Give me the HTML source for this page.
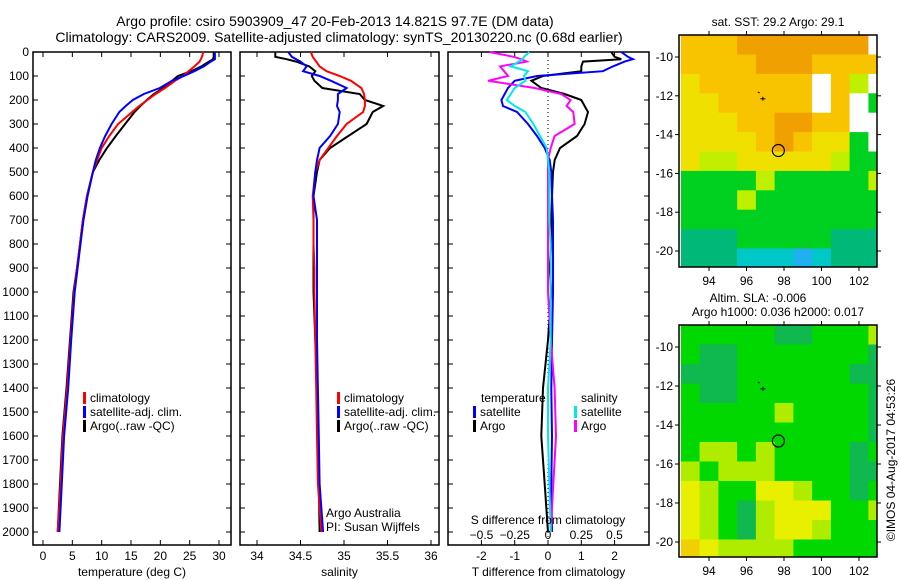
<!DOCTYPE html>
<html><head><meta charset="utf-8"><style>
body{margin:0;background:#fff;}
svg{display:block;font-family:"Liberation Sans",sans-serif;}
</style></head><body>
<svg id="c" width="900" height="580" viewBox="0 0 900 580" xmlns="http://www.w3.org/2000/svg">
<text x="335" y="26" font-size="14" text-anchor="middle">Argo profile: csiro 5903909_47 20-Feb-2013 14.821S 97.7E (DM data)</text>
<text x="339" y="42" font-size="14" text-anchor="middle">Climatology: CARS2009. Satellite-adjusted climatology: synTS_20130220.nc (0.68d earlier)</text>
<text x="778" y="26" font-size="12" text-anchor="middle">sat. SST: 29.2 Argo: 29.1</text>
<text x="758" y="302" font-size="12" text-anchor="middle">Altim. SLA: -0.006</text>
<text x="778" y="316" font-size="12" text-anchor="middle">Argo h1000: 0.036 h2000: 0.017</text>
<text transform="translate(895,460) rotate(-90)" font-size="12" text-anchor="middle">©IMOS 04-Aug-2017 04:53:26</text>
<g id="g"></g>
</svg>
<script>
// ---- profile data ----
const depths=[0,20,30,40,60,80,100,120,150,175,200,225,250,300,350,400,450,500,600,700,800,900,1000,1200,1400,1600,1800,2000];
const tempClim=[27.3,27.1,26.9,26.7,25.8,24.8,23.9,22.5,20.8,19.2,17.8,16.4,15.2,12.8,11.3,10.0,9.2,8.5,7.5,6.8,6.3,5.8,5.3,4.7,4.1,3.4,3.0,2.5];
const tempSat=[29.3,29.3,29.3,28.6,27.4,25.8,24.0,22.0,19.9,17.2,15.3,14.1,13.0,11.7,10.6,9.7,9.0,8.5,7.6,6.9,6.4,5.9,5.4,4.8,4.3,3.6,3.2,2.8];
const tempArgo=[29.1,29.1,29.0,28.3,27.0,25.3,23.0,22.0,20.5,18.9,17.7,16.6,15.6,14.0,12.4,10.9,9.6,8.5,7.5,6.8,6.3,5.8,5.2,4.6,4.0,3.3,2.9,2.5];
const salClim=[34.62,34.64,34.66,34.68,34.72,34.8,34.95,35.08,35.2,35.23,35.24,35.24,35.22,35.03,34.92,34.82,34.72,34.67,34.64,34.65,34.65,34.66,34.66,34.67,34.68,34.69,34.7,34.74];
const salSat=[34.36,34.4,34.45,34.5,34.57,34.53,34.72,34.85,35.03,34.93,34.93,34.92,34.95,34.93,34.84,34.72,34.69,34.67,34.65,34.69,34.69,34.69,34.69,34.69,34.7,34.71,34.72,34.76];
const salArgo=[34.21,34.21,34.34,34.45,34.6,34.67,34.63,34.66,34.75,35.18,35.24,35.45,35.33,35.26,35.05,34.84,34.72,34.69,34.65,34.65,34.65,34.65,34.65,34.67,34.69,34.7,34.71,34.72];
const dTSat=[2.2,2.4,2.55,2.3,1.95,1.65,-0.33,-1.0,-1.2,-1.3,-1.4,-1.35,-0.93,-0.6,-0.33,-0.1,0.05,0.1,0.12,0.15,0.15,0.15,0.15,0.12,0.1,0.12,0.1,0.12];
const dTArgo=[1.9,2.0,2.2,1.05,1.0,1.0,-0.15,-0.5,-0.2,0.5,1.0,1.1,1.2,1.1,0.87,0.36,0.2,0.15,0.12,0.1,0.1,0.05,0.1,0.0,-0.15,-0.2,-0.1,0.0];
const dSArgo=[-0.44,-0.26,-0.2,-0.16,-0.36,-0.33,-0.3,-0.45,-0.1,0.1,0.17,0.14,0.19,0.2,0.05,0.02,0.0,0.0,0.0,0.0,0.0,0.0,0.0,0.02,0.05,0.06,0.04,0.02];
const dSSat=[-0.14,-0.18,-0.19,-0.22,-0.28,-0.15,-0.18,-0.17,-0.25,-0.28,-0.31,-0.25,-0.17,-0.11,-0.06,-0.01,0.0,0.01,0.01,0.01,0.02,0.02,0.02,0.02,0.0,0.0,0.01,0.02];
const depthTicks=[0,100,200,300,400,500,600,700,800,900,1000,1100,1200,1300,1400,1500,1600,1700,1800,1900,2000];
const tempTicks=[0,5,10,15,20,25,30];
const salTicks=[34,34.5,35,35.5,36];
const dTTicks=[-2,-1,0,1,2];
const dSTicks=[-0.5,-0.25,0,0.25,0.5];
// ---- map data (1-degree cells, rows lat -9..-21, cols lon 92.5..102.5) ----
const mapLons=[92,93,94,95,96,97,98,99,100,101,102];
const mapLats=[-9,-10,-11,-12,-13,-14,-15,-16,-17,-18,-19,-20];
const sstCells=[
[2,2,2,1,1,1,1,1,1,1,0],
[2,2,2,2,1,1,1,2,2,2,2],
[3,2,2,2,2,2,2,0,2,4,0],
[3,3,2,2,2,2,2,0,2,0,5],
[3,3,3,2,2,1,1,2,2,0,0],
[3,3,3,3,2,1,2,3,3,5,0],
[3,4,4,3,3,3,3,3,4,5,5],
[5,5,5,5,4,5,5,5,5,5,4],
[5,5,5,4,5,5,5,5,5,5,5],
[5,5,5,5,5,5,5,5,5,5,5],
[6,6,6,5,5,5,5,5,6,6,6],
[6,6,6,7,7,7,8,7,6,6,6]];
const slaCells=[
[5,5,5,5,5,6,6,5,5,5,4],
[5,6,6,5,5,5,5,5,5,5,6],
[6,6,6,5,5,5,5,5,5,6,6],
[5,6,6,5,5,5,5,5,5,5,6],
[5,5,5,5,5,4,5,5,5,5,6],
[5,5,5,5,5,5,5,5,5,5,6],
[5,4,4,5,4,5,5,5,5,6,5],
[4,5,4,4,4,5,5,5,5,6,6],
[3,4,5,5,3,3,4,5,5,6,5],
[3,4,5,6,4,3,3,3,5,5,4],
[3,4,5,6,4,3,3,4,5,5,5],
[2,3,4,4,4,4,5,5,5,5,5]];
const palette=['#ffffff','#f0a000','#f8c400','#f0e000','#c0f000','#00d020','#00b878','#00c8c8','#20b0f0'];
const slaPalette=['#ffffff','#f0a000','#f0d000','#e8f000','#b0ec00','#00d800','#10b850','#00c8c8','#20b0f0'];

const NS='http://www.w3.org/2000/svg';
const G=document.getElementById('g');
function mk(tag,at,parent){const e=document.createElementNS(NS,tag);for(const k in at)e.setAttribute(k,at[k]);(parent||G).appendChild(e);return e;}
function txt(x,y,s,anchor,size){const t=mk('text',{x:x,y:y,'font-size':size||12,'text-anchor':anchor||'middle'});t.textContent=s;return t;}
const yD=d=>52+d*0.24;
const TOP=52,BOT=545;

function panel(name,L,R,xs,ticks,fmt,label){
  const r=mk('rect',{x:L,y:TOP,width:R-L,height:BOT-TOP,fill:'none',stroke:'#000','stroke-width':1.5});
  
  
  depthTicks.forEach(d=>{const y=yD(d);mk('line',{x1:L,x2:L+5,y1:y,y2:y,stroke:'#000'});mk('line',{x1:R-5,x2:R,y1:y,y2:y,stroke:'#000'});});
  ticks.forEach(v=>{const x=xs(v);mk('line',{x1:x,x2:x,y1:TOP,y2:TOP+5,stroke:'#000'});mk('line',{x1:x,x2:x,y1:BOT-5,y2:BOT,stroke:'#000'});
    const t=txt(x,560,fmt(v));
    
    });
  const l=txt((L+R)/2,576,label);
  
  
}
function line(name,vals,xs,color,w){
  const pts=vals.map((v,i)=>xs(v).toFixed(1)+','+yD(depths[i]).toFixed(1)).join(' ');
  const p=mk('polyline',{points:pts,fill:'none',stroke:color,'stroke-width':w||2});
  
  
}
function legend(name,x,y,color,label){
  const b=mk('rect',{x:x,y:y-10,width:3,height:12,fill:color});
  
  
  const t=txt(x+7,y,label,'start');
  
  
}
// depth labels
depthTicks.forEach(d=>{const t=txt(29,yD(d)+4,String(d),'end');
  
  });

// panel 1 temperature
const xT=v=>43+v*5.867;
panel('temperature-panel',33,231,xT,tempTicks,v=>String(v),'temperature (deg C)');
line('temp-argo',tempArgo,xT,'#000');
line('temp-climatology',tempClim,xT,'#f00');
line('temp-satellite-adj',tempSat,xT,'#00f');
legend('legend-climatology',83,402,'#f00','climatology');
legend('legend-satellite-adj',83,416,'#00f','satellite-adj. clim.');
legend('legend-argo',83,430,'#000','Argo(..raw -QC)');

// panel 2 salinity
const xS=v=>257+(v-34)*87;
panel('salinity-panel',240,439,xS,salTicks,v=>String(v),'salinity');
line('sal-argo',salArgo,xS,'#000');
line('sal-climatology',salClim,xS,'#f00');
line('sal-satellite-adj',salSat,xS,'#00f');
legend('sal-legend-climatology',337,402,'#f00','climatology');
legend('sal-legend-satellite-adj',337,416,'#00f','satellite-adj. clim.');
legend('sal-legend-argo',337,430,'#000','Argo(..raw -QC)');
[['credit-argo-australia','Argo Australia',517],['credit-pi','PI: Susan Wijffels',531]].forEach(a=>{const t=txt(326,a[2],a[1],'start');
  
  });

// panel 3 differences
const xdT=v=>548+v*33.3;
const xdS=v=>548+v*133;
panel('difference-panel',448,649,xdT,dTTicks,v=>String(v),'T difference from climatology');
mk('line',{x1:548,x2:548,y1:TOP,y2:BOT,stroke:'#000','stroke-dasharray':'1,3'});
line('dT-argo',dTArgo,xdT,'#000');
line('dT-satellite',dTSat,xdT,'#00f');
line('dS-argo',dSArgo,xdS,'#f0f');
line('dS-satellite',dSSat,xdS,'#00e8e8');
dSTicks.forEach(v=>{const t=txt(xdS(v),539,v===0?'0':String(v).replace('-','\u2212'));
  
  });
const st=txt(548,524,'S difference from climatology');


const tl=txt(481,402,'temperature','start');


const sl=txt(581,402,'salinity','start');


legend('legend-t-satellite',473,416,'#00f','satellite');
legend('legend-t-argo',473,430,'#000','Argo');
legend('legend-s-satellite',574,416,'#00e8e8','satellite');
legend('legend-s-argo',574,430,'#f0f','Argo');

// maps
function map(name,top,cells,pal,lat10y,lat20y){
  const L=679,R=877,B=top+232;
  const xL=lon=>709+(lon-94)*18.75;
  const yL=lat=>lat10y+(-lat-10)*(lat20y-lat10y)/10;
  const g=mk('g',{});
  
  
  const cp=mk('clipPath',{id:name+'-clip'},g);mk('rect',{x:L,y:top,width:R-L,height:B-top},cp);
  const cg=mk('g',{'clip-path':'url(#'+name+'-clip)'},g);
  mapLats.forEach((lat,i)=>mapLons.forEach((lon,j)=>{
    const x0=xL(lon+0.5),x1=xL(lon+1.5),y0=yL(lat+0.13),y1=yL(lat-0.87);
    const c=mk('rect',{x:x0.toFixed(1),y:y0.toFixed(1),width:(x1-x0+0.5).toFixed(1),height:(y1-y0+0.5).toFixed(1),fill:pal[cells[i][j]]},cg);
    
    
  }));
  mk('rect',{x:L,y:top,width:R-L,height:B-top,fill:'none',stroke:'#000','stroke-width':1.5},g);
  [94,96,98,100,102].forEach(lon=>{const x=xL(lon);mk('line',{x1:x,x2:x,y1:top-4,y2:top,stroke:'#000'},g);mk('line',{x1:x,x2:x,y1:B,y2:B+4,stroke:'#000'},g);
    const t=txt(x,B+18,String(lon));});
  [10,12,14,16,18,20].forEach(la=>{const y=yL(-la);mk('line',{x1:L-4,x2:L,y1:y,y2:y,stroke:'#000'},g);mk('line',{x1:R,x2:R+4,y1:y,y2:y,stroke:'#000'},g);
    const t=txt(L-6,y+4,'-'+la,'end');});
  const c=mk('circle',{cx:xL(97.7),cy:yL(-14.82),r:6,fill:'none',stroke:'#000','stroke-width':1.2},g);
  
  
  mk('path',{d:`M${xL(96.6)} ${yL(-11.8)} l2 1 M${xL(96.9)-3} ${yL(-12.15)} h5 M${xL(96.9)-0.5} ${yL(-12.15)-2} v4`,stroke:'#000','stroke-width':1,fill:'none'},g);
}
map('sst-map',35,sstCells,palette,57,251);
map('sla-map',325,slaCells,slaPalette,347,542);
</script>
</body></html>
